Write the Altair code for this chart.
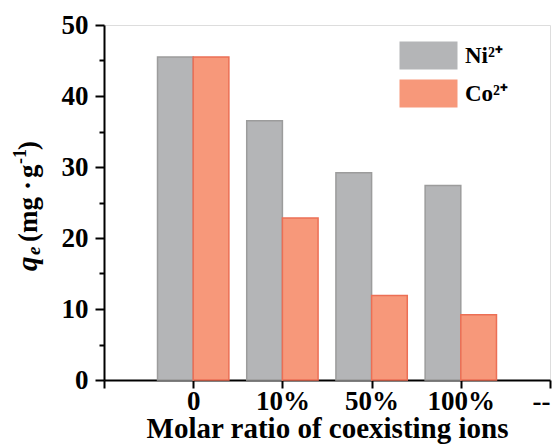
import altair as alt
import pandas as pd

# ---- data ----
categories = ["0", "10%", "50%", "100%"]
positions = [1, 2, 3, 4]
ni_values = [45.5, 36.5, 29.2, 27.4]
co_values = [45.5, 22.8, 11.9, 9.2]
series_names = ["Ni²⁺", "Co²⁺"]
series_offsets = [-0.4, 0.0]
bar_width = 0.4
fill_colors = ["#b4b5b7", "#f7987a"]
stroke_colors = ["#9c9c9c", "#ec6f55"]
x_tick_values = [0, 1, 2, 3, 4, 5]
x_tick_labels = ["", "0", "10%", "50%", "100%", "--"]
y_tick_values = list(range(0, 51, 5))

rows = []
for s_name, off, vals in zip(series_names, series_offsets, [ni_values, co_values]):
    for cat, pos, v in zip(categories, positions, vals):
        rows.append({"category": cat, "series": s_name, "start": pos + off,
                     "end": pos + off + bar_width, "value": v})
df = pd.DataFrame(rows)

FONT = "Liberation Serif"
label_js = "[" + ",".join("'%s'" % t for t in x_tick_labels) + "][datum.value]"

bars = alt.Chart(df).mark_bar(strokeWidth=1.5).encode(
    x=alt.X("start:Q",
            scale=alt.Scale(domain=[0, 5], nice=False, zero=False),
            axis=alt.Axis(values=x_tick_values, labelExpr=label_js,
                          title="Molar ratio of coexisting ions",
                          titleFontSize=29, titleFontWeight="bold", titleFont=FONT,
                          titlePadding=0,
                          labelFontSize=27, labelFontWeight="bold", labelFont=FONT,
                          labelPadding=0, labelOverlap=False,
                          tickSize=8, tickWidth=2, tickColor="black",
                          domainWidth=2, domainColor="black", grid=False,
                          labelColor="black", titleColor="black")),
    x2="end:Q",
    y=alt.Y("value:Q",
            scale=alt.Scale(domain=[0, 50], nice=False),
            axis=alt.Axis(values=y_tick_values,
                          labelExpr="datum.value % 10 === 0 ? datum.label : ''",
                          tickSize={"condition": {"test": "datum.value % 10 === 0", "value": 9}, "value": 5},
                          title=None,
                          labelFontSize=27, labelFontWeight="bold", labelFont=FONT,
                          labelPadding=7, labelColor="black",
                          tickWidth=2, tickColor="black",
                          domainWidth=2, domainColor="black", grid=False)),
    y2=alt.datum(0),
    fill=alt.Fill("series:N", scale=alt.Scale(domain=series_names, range=fill_colors),
                  legend=alt.Legend(title=None, orient="none", legendX=313, legendY=19,
                                    symbolType="M-2.9,-1.4H2.9V1.4H-2.9Z", symbolSize=400,
                                    symbolStrokeWidth=0, labelFont=FONT, labelFontSize=23,
                                    labelFontWeight="bold", labelColor="black",
                                    labelOffset=25, rowPadding=9, padding=0)),
    stroke=alt.Stroke("series:N", scale=alt.Scale(domain=series_names, range=stroke_colors),
                      legend=None),
)

# ---- y-axis title built from rich-text pieces (rotated) ----
ox, oy = 104, 25  # plot origin in page pixels
base_x = 37 - ox
title_pieces = [
    {"t": "q", "y": 271, "dx": 0, "size": 29, "style": "italic"},
    {"t": "e", "y": 255, "dx": 3, "size": 19, "style": "italic"},
    {"t": "(mg", "y": 242, "dx": 0, "size": 27, "style": "normal"},
    {"t": "·", "y": 190, "dx": 0, "size": 27, "style": "normal"},
    {"t": "g", "y": 178, "dx": 0, "size": 27, "style": "normal"},
    {"t": "-1", "y": 164, "dx": -11, "size": 18, "style": "normal"},
    {"t": ")", "y": 150, "dx": 0, "size": 27, "style": "normal"},
]
pieces = []
for p in title_pieces:
    pieces.append(
        alt.Chart(pd.DataFrame({"t": [p["t"]]})).mark_text(
            angle=270, align="left", baseline="alphabetic", font=FONT,
            fontWeight="bold", fontStyle=p["style"], fontSize=p["size"], color="black"
        ).encode(text="t:N", x=alt.value(base_x + p["dx"]), y=alt.value(p["y"] - oy))
    )

chart = alt.layer(bars, *pieces).properties(
    width=446, height=355,
    autosize=alt.AutoSizeParams(type="none"),
    padding={"left": 104, "top": 25, "right": 7, "bottom": 66},
).configure_view(stroke="black", strokeWidth=2).configure(background="white")

chart.save("out.html", embed_options={"renderer": "svg", "actions": False})
